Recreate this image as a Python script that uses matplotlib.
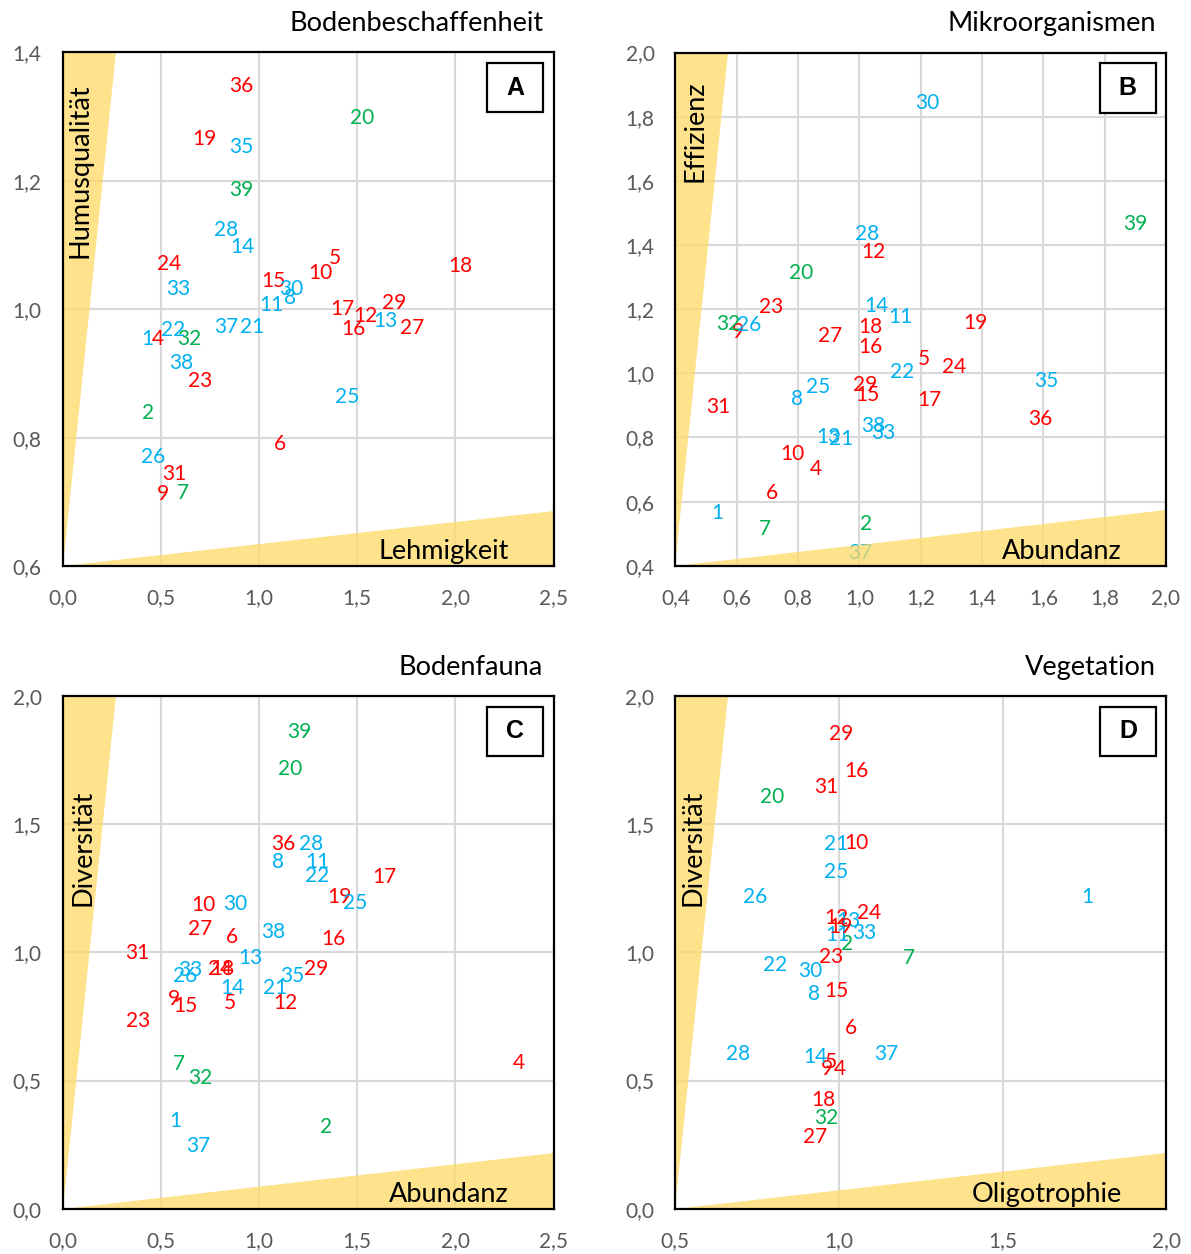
import numpy as np
import matplotlib
matplotlib.use("Agg")
import matplotlib.pyplot as plt
from matplotlib.patches import Polygon, Rectangle

plt.rcParams['font.family'] = ['Lato', 'DejaVu Sans']

# Site numbers and their group (colour)
sites = [1, 2, 4, 5, 6, 7, 8, 9, 10, 11, 12, 13, 14, 15, 16, 17, 18, 19, 20,
         21, 22, 23, 24, 25, 26, 27, 28, 29, 30, 31, 32, 33, 35, 36, 37, 38, 39]
group = {
    'blue': [1, 8, 11, 13, 14, 21, 22, 25, 26, 28, 30, 33, 35, 37, 38],
    'red': [4, 5, 6, 9, 10, 12, 15, 16, 17, 18, 19, 23, 24, 27, 29, 31, 36],
    'green': [2, 7, 20, 32, 39],
}
group_colors = {'blue': '#00B0F0', 'red': '#FF0000', 'green': '#00B050'}

nan = np.nan

# A: Bodenbeschaffenheit (Lehmigkeit, Humusqualität)
a_x = [0.432, 0.435, 0.488, 1.389, 1.107, 0.615, 1.158, 0.510, 1.311, 1.065,
       1.540, 1.645, 0.916, 1.072, 1.481, 1.427, 2.027, 0.724, 1.528, 0.968,
       0.564, 0.700, 0.541, 1.450, 0.462, 1.780, 0.831, 1.686, 1.163, 0.568,
       0.646, 0.590, 0.909, 0.909, 0.836, 0.603, 0.912]
a_y = [0.953, 0.838, 0.953, 1.080, 0.790, 0.714, 1.017, 0.713, 1.056, 1.007,
       0.990, 0.982, 1.097, 1.044, 0.969, 1.000, 1.068, 1.265, 1.298, 0.972,
       0.968, 0.889, 1.071, 0.864, 0.770, 0.970, 1.123, 1.010, 1.032, 0.743,
       0.953, 1.032, 1.253, 1.348, 0.973, 0.917, 1.186]

# B: Mikroorganismen (Abundanz, Effizienz)
b_x = [0.536, 1.022, 0.859, 1.211, 0.716, 0.692, 0.797, 0.605, 0.780, 1.135,
       1.047, 0.899, 1.055, 1.025, 1.036, 1.228, 1.036, 1.380, 0.809, 0.942,
       1.140, 0.711, 1.310, 0.865, 0.640, 0.905, 1.025, 1.018, 1.222, 0.540,
       0.573, 1.079, 1.611, 1.591, 1.003, 1.046, 1.900]
b_y = [0.565, 0.529, 0.701, 1.044, 0.626, 0.514, 0.919, 1.130, 0.748, 1.176,
       1.379, 0.800, 1.211, 0.932, 1.083, 0.917, 1.143, 1.156, 1.314, 0.794,
       1.005, 1.208, 1.019, 0.958, 1.151, 1.117, 1.433, 0.964, 1.842, 0.894,
       1.154, 0.815, 0.977, 0.857, 0.439, 0.836, 1.464]

# C: Bodenfauna (Abundanz, Diversität)
c_x = [0.573, 1.340, 2.326, 0.853, 0.863, 0.595, 1.096, 0.568, 0.717, 1.297,
       1.133, 0.955, 0.863, 0.627, 1.379, 1.637, 0.816, 1.409, 1.157, 1.082,
       1.297, 0.386, 0.802, 1.488, 0.624, 0.700, 1.264, 1.291, 0.880, 0.381,
       0.700, 0.649, 1.170, 1.124, 0.692, 1.073, 1.204]
c_y = [0.343, 0.320, 0.567, 0.801, 1.061, 0.563, 1.351, 0.817, 1.184, 1.351,
       0.803, 0.977, 0.860, 0.791, 1.051, 1.295, 0.934, 1.215, 1.716, 0.860,
       1.299, 0.732, 0.936, 1.193, 0.908, 1.090, 1.422, 0.936, 1.187, 0.996,
       0.511, 0.931, 0.908, 1.422, 0.246, 1.080, 1.860]

# D: Vegetation (Oligotrophie, Diversität)
d_x = [1.760, 1.025, 1.003, 0.976, 1.037, 1.214, 0.924, 0.962, 1.054, 0.995,
       0.991, 1.028, 0.929, 0.993, 1.054, nan, 0.952, 1.003, 0.796, 0.990,
       0.805, 0.975, 1.091, 0.990, 0.743, 0.927, 0.691, 1.008, 0.911, 0.960,
       0.960, 1.076, nan, nan, 1.143, nan, nan]
d_y = [1.215, 1.032, 0.544, 0.571, 0.706, 0.980, 0.836, 0.544, 1.425, 1.067,
       1.135, 1.123, 0.590, 0.849, 1.708, nan, 0.424, 1.100, 1.607, 1.421,
       0.950, 0.983, 1.152, 1.314, 1.215, 0.281, 0.602, 1.854, 0.928, 1.646,
       0.355, 1.076, nan, nan, 0.602, nan, nan]

panels = [
    dict(x=a_x, y=a_y, title='Bodenbeschaffenheit', letter='A',
         xlab='Lehmigkeit', ylab='Humusqualität', ylab_pos=(0.036, 0.770),
         xlim=(0.0, 2.5), ylim=(0.6, 1.4), xticks=np.arange(0, 2.51, 0.5),
         yticks=np.arange(0.6, 1.41, 0.2),
         rect=(62.5, 553.5, 52.2, 566.2)),
    dict(x=b_x, y=b_y, title='Mikroorganismen', letter='B',
         xlab='Abundanz', ylab='Effizienz', ylab_pos=(0.040, 0.846),
         xlim=(0.4, 2.0), ylim=(0.4, 2.0), xticks=np.arange(0.4, 2.01, 0.2),
         yticks=np.arange(0.4, 2.01, 0.2),
         rect=(675.4, 1165.9, 52.5, 565.8)),
    dict(x=c_x, y=c_y, title='Bodenfauna', letter='C',
         xlab='Abundanz', ylab='Diversität', ylab_pos=(0.041, 0.705),
         xlim=(0.0, 2.5), ylim=(0.0, 2.0), xticks=np.arange(0, 2.51, 0.5),
         yticks=np.arange(0.0, 2.01, 0.5),
         rect=(62.5, 553.5, 696.1, 1208.7)),
    dict(x=d_x, y=d_y, title='Vegetation', letter='D',
         xlab='Oligotrophie', ylab='Diversität', ylab_pos=(0.037, 0.704),
         xlim=(0.5, 2.0), ylim=(0.0, 2.0), xticks=np.arange(0.5, 2.01, 0.5),
         yticks=np.arange(0.0, 2.01, 0.5),
         rect=(675.3, 1166.4, 696.1, 1208.7)),
]

W, H = 1191, 1254
fig = plt.figure(figsize=(W / 100, H / 100), dpi=100)

color_of = {}
for g, members in group.items():
    for s in members:
        color_of[s] = group_colors[g]

YELLOW = '#FFD966'
TICK_GRAY = '#595959'

for p in panels:
    l, r, t, b = p['rect']
    ax = fig.add_axes([l / W, (H - b) / H, (r - l) / W, (b - t) / H])
    ax.set_xlim(*p['xlim'])
    ax.set_ylim(*p['ylim'])
    ax.set_xticks(p['xticks'])
    ax.set_yticks(p['yticks'])
    ax.set_xticklabels([f'{v:.1f}'.replace('.', ',') for v in p['xticks']])
    ax.set_yticklabels([f'{v:.1f}'.replace('.', ',') for v in p['yticks']])
    ax.tick_params(length=0, labelsize=15, labelcolor=TICK_GRAY)
    ax.tick_params(axis='x', pad=16)
    ax.tick_params(axis='y', pad=15)
    ax.grid(True, color='#D9D9D9', linewidth=1.5, zorder=0)
    ax.set_axisbelow(True)
    for sp in ax.spines.values():
        sp.set_linewidth(1.6)
        sp.set_color('black')
        sp.set_zorder(10)

    # site labels
    for s, xv, yv in zip(sites, p['x'], p['y']):
        if np.isnan(xv) or np.isnan(yv):
            continue
        ax.text(xv, yv, str(s), color=color_of[s], fontsize=15,
                ha='center', va='center', zorder=3, clip_on=True)

    # shaded wedges along both axes
    f = 0.108
    ax.add_patch(Polygon([(0, 0), (0, 1), (f, 1)], closed=True,
                         transform=ax.transAxes, facecolor=YELLOW,
                         edgecolor='none', alpha=0.75, zorder=4))
    ax.add_patch(Polygon([(0, 0), (1, 0), (1, f)], closed=True,
                         transform=ax.transAxes, facecolor=YELLOW,
                         edgecolor='none', alpha=0.75, zorder=4))

    ax.text(p['ylab_pos'][0], p['ylab_pos'][1], p['ylab'],
            transform=ax.transAxes, rotation=90, ha='center', va='center',
            fontsize=19.5, color='black', zorder=6)
    ax.text(0.909, 0.014, p['xlab'], transform=ax.transAxes,
            ha='right', va='baseline', fontsize=19.5, color='black', zorder=6)

    # panel letter in a box
    ax.add_patch(Rectangle((0.865, 0.883), 0.114, 0.096,
                           transform=ax.transAxes, facecolor='white',
                           edgecolor='black', linewidth=1.6, zorder=7))
    ax.text(0.922, 0.931, p['letter'], transform=ax.transAxes,
            ha='center', va='center', fontsize=18, fontweight='bold',
            family='Liberation Sans', zorder=8)

    ax.text(0.979, 1.041, p['title'], transform=ax.transAxes,
            ha='right', va='baseline', fontsize=19.5, color='black')

fig.savefig('out.png', dpi=100)
